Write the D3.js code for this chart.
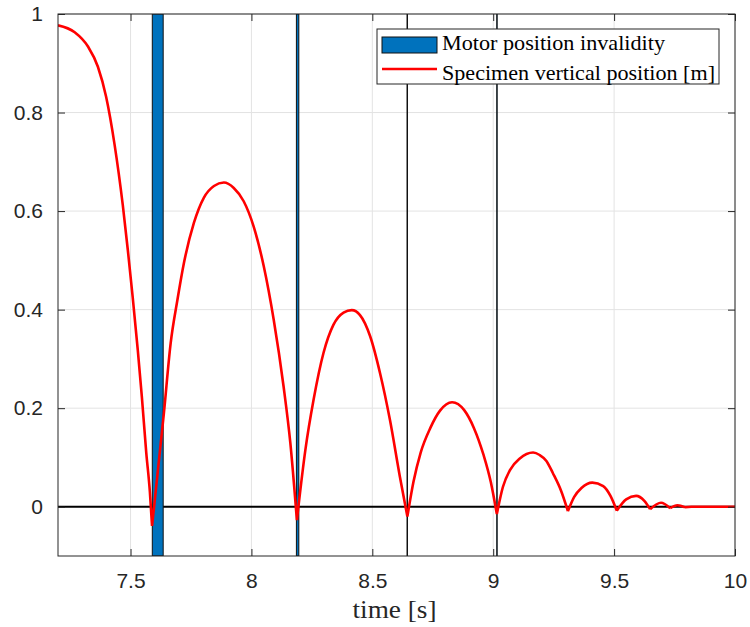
<!DOCTYPE html>
<html>
<head>
<meta charset="utf-8">
<script src="https://cdn.jsdelivr.net/npm/d3@7"></script>
<style>
  body { margin: 0; background: #fff; }
  .tick text { font-family: "Liberation Sans", Arial, sans-serif; }
</style>
</head>
<body>
<div id="chart"></div>
<script>
// curve: time [s] and specimen vertical position [m]
var timeS = [7.200, 7.269, 7.324, 7.365, 7.399, 7.434, 7.468, 7.489, 7.509, 7.530,
    7.547, 7.565, 7.580, 7.589, 7.638, 7.666, 7.694, 7.721, 7.762, 7.803, 7.845,
    7.886, 7.927, 7.968, 8.009, 8.051, 8.092, 8.133, 8.161, 8.188, 8.223,
    8.257, 8.298, 8.339, 8.381, 8.415, 8.449, 8.491, 8.532, 8.573, 8.614,
    8.645, 8.670, 8.700, 8.740, 8.780, 8.830, 8.880, 8.920, 8.960, 8.990,
    9.015, 9.040, 9.070, 9.110, 9.165, 9.192, 9.220, 9.247, 9.281, 9.309,
    9.335, 9.365, 9.410, 9.455, 9.485, 9.511, 9.550, 9.591, 9.625, 9.649, 9.694,
    9.732, 9.762, 9.793, 9.820, 10.000];
var posM = [0.977, 0.963, 0.934, 0.893, 0.832, 0.735, 0.612, 0.520, 0.425, 0.318,
    0.222, 0.110, 0.030, -0.039, 0.190, 0.332, 0.420, 0.495, 0.576, 0.627, 0.651,
    0.658, 0.647, 0.620, 0.569, 0.488, 0.380, 0.244, 0.129, -0.027, 0.115,
    0.217, 0.312, 0.369, 0.394, 0.399, 0.389, 0.346, 0.271, 0.176, 0.061,
    -0.020, 0.050, 0.110, 0.160, 0.195, 0.212, 0.196, 0.160, 0.105, 0.050,
    -0.015, 0.040, 0.075, 0.098, 0.110, 0.105, 0.093, 0.068, 0.032, -0.009,
    0.020, 0.038, 0.049, 0.042, 0.022, -0.008, 0.015, 0.022, 0.012, -0.005, 0.008,
    -0.003, 0.003, -0.001, 0, 0];

// motor position invalidity intervals
var barStart = [7.590, 8.186, 8.6435, 9.0145];
var barEnd   = [7.635, 8.196, 8.6455, 9.0165];

var xTicks = [7.5, 8, 8.5, 9, 9.5, 10];
var yTicks = [0, 0.2, 0.4, 0.6, 0.8, 1];
var legendLabels = ["Motor position invalidity", "Specimen vertical position [m]"];

var fullwidth = 750;
var fullheight = 627;
var margin = {top: 14, right: 15, bottom: 71, left: 58};
var width = fullwidth - margin.left - margin.right;
var height = fullheight - margin.top - margin.bottom;

var vis = d3.select("#chart").append("svg")
    .attr("width", fullwidth)
    .attr("height", fullheight);
var svg = vis.append("g")
    .attr("transform", "translate(" + margin.left + "," + margin.top + ")");

var xScale = d3.scaleLinear().domain([7.2, 10]).range([0, width]);
var yScale = d3.scaleLinear().domain([-0.1, 1]).range([height, 0]);

svg.append("clipPath").attr("id", "clip")
    .append("rect").attr("width", width).attr("height", height);

// grid
svg.selectAll("line.gx").data(xTicks).enter().append("line")
    .attr("class", "gx")
    .attr("x1", function(d) { return xScale(d); })
    .attr("x2", function(d) { return xScale(d); })
    .attr("y1", 0).attr("y2", height)
    .attr("stroke", "#e3e3e3").attr("stroke-width", 1);
svg.selectAll("line.gy").data(yTicks).enter().append("line")
    .attr("class", "gy")
    .attr("y1", function(d) { return yScale(d); })
    .attr("y2", function(d) { return yScale(d); })
    .attr("x1", 0).attr("x2", width)
    .attr("stroke", "#e3e3e3").attr("stroke-width", 1);

var plot = svg.append("g").attr("clip-path", "url(#clip)");

// zero line
plot.append("line")
    .attr("x1", 0).attr("x2", width)
    .attr("y1", yScale(0)).attr("y2", yScale(0))
    .attr("stroke", "#000").attr("stroke-width", 2);

// invalidity bars
plot.selectAll("rect.bar").data(barStart).enter().append("rect")
    .attr("class", "bar")
    .attr("x", function(d) { return xScale(d); })
    .attr("width", function(d, i) { return xScale(barEnd[i]) - xScale(d); })
    .attr("y", yScale(1))
    .attr("height", yScale(-0.1) - yScale(1))
    .attr("fill", "#0072bd")
    .attr("stroke", "#111")
    .attr("stroke-width", 1);

// split the curve at the impacts (local minima) so the bounces stay sharp
var arcs = [];
var cur = [0];
for (var i = 1; i < timeS.length; i++) {
    cur.push(i);
    if (i < timeS.length - 1 && posM[i] < posM[i - 1] && posM[i] < posM[i + 1]) {
        arcs.push(cur);
        cur = [i];
    }
}
arcs.push(cur);

var line = d3.line()
    .x(function(i) { return xScale(timeS[i]); })
    .y(function(i) { return yScale(posM[i]); })
    .curve(d3.curveMonotoneX);

plot.append("path")
    .attr("d", arcs.map(function(a) { return line(a); }).join(""))
    .attr("fill", "none")
    .attr("stroke", "#ff0000")
    .attr("stroke-width", 2.6)
    .attr("stroke-linejoin", "round");

// axes (box with inward ticks on all sides)
var tickLen = 7;
svg.append("g").attr("transform", "translate(0," + height + ")")
    .call(d3.axisBottom(xScale).tickValues(xTicks).tickSizeInner(-tickLen).tickSizeOuter(0)
        .tickPadding(17).tickFormat(d3.format("")));
svg.append("g")
    .call(d3.axisLeft(yScale).tickValues(yTicks).tickSizeInner(-tickLen).tickSizeOuter(0)
        .tickPadding(15).tickFormat(d3.format("")));
svg.append("g")
    .call(d3.axisTop(xScale).tickValues(xTicks).tickSizeInner(-tickLen).tickSizeOuter(0).tickFormat(""));
svg.append("g").attr("transform", "translate(" + width + ",0)")
    .call(d3.axisRight(yScale).tickValues(yTicks).tickSizeInner(-tickLen).tickSizeOuter(0).tickFormat(""));

svg.selectAll(".domain").remove();
svg.selectAll(".tick line").attr("stroke", "#262626");
svg.selectAll(".tick text").attr("font-size", 21).attr("fill", "#262626");

svg.append("rect")
    .attr("width", width).attr("height", height)
    .attr("fill", "none").attr("stroke", "#262626").attr("stroke-width", 1);

// x label
svg.append("text")
    .attr("x", width / 2 - 2).attr("y", height + 62)
    .attr("text-anchor", "middle")
    .attr("font-family", "Liberation Serif, serif")
    .attr("font-size", 25)
    .attr("fill", "#262626")
    .attr("textLength", 84)
    .attr("lengthAdjust", "spacingAndGlyphs")
    .text("time [s]");

// legend
var legend = vis.append("g").attr("transform", "translate(377,29)");
legend.append("rect")
    .attr("width", 342).attr("height", 55)
    .attr("fill", "#fff").attr("stroke", "#262626").attr("stroke-width", 1);
legend.append("rect")
    .attr("x", 5).attr("y", 8).attr("width", 55).attr("height", 16)
    .attr("fill", "#0072bd").attr("stroke", "#111").attr("stroke-width", 1);
legend.append("line")
    .attr("x1", 5).attr("x2", 60).attr("y1", 40).attr("y2", 40)
    .attr("stroke", "#ff0000").attr("stroke-width", 2.6);
legend.selectAll("text").data(legendLabels).enter().append("text")
    .attr("x", 65)
    .attr("y", function(d, i) { return 21 + i * 30; })
    .attr("font-family", "Liberation Serif, serif")
    .attr("font-size", 21)
    .attr("fill", "#000")
    .attr("textLength", function(d, i) { return i === 0 ? 223 : 273; })
    .attr("lengthAdjust", "spacingAndGlyphs")
    .text(function(d) { return d; });
</script>
</body>
</html>
